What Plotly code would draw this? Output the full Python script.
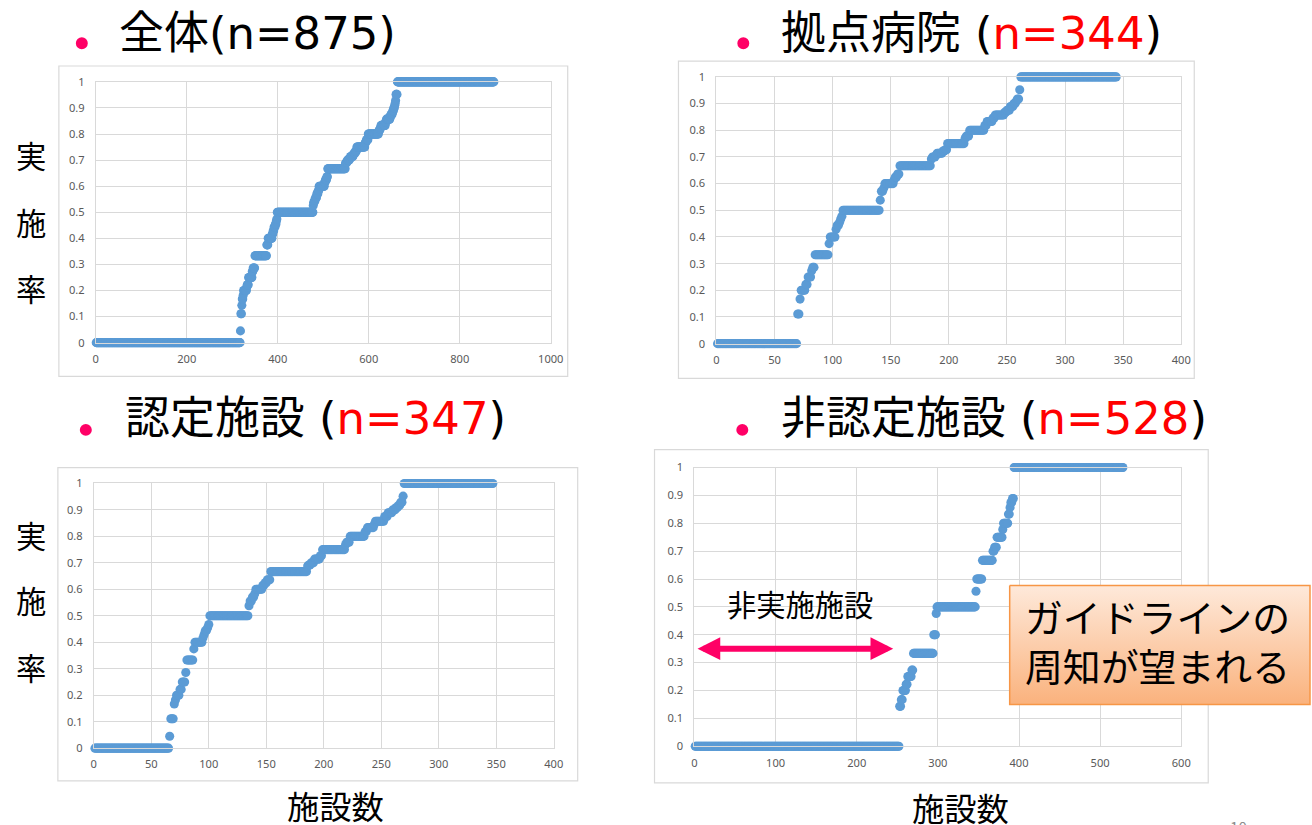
import plotly.graph_objects as go

# ---------------- data (run-length: sorted implementation rate, number of facilities) -------------
all_levels = [0, 0.045, 0.111, 0.143, 0.167, 0.182, 0.2, 0.214, 0.222, 0.25, 0.273, 0.286,
              0.333, 0.375, 0.4, 0.417, 0.429, 0.444, 0.455, 0.467, 0.474,
              0.5, 0.526, 0.538, 0.545, 0.556, 0.571, 0.583, 0.6, 0.615, 0.625, 0.636,
              0.667, 0.688, 0.692, 0.7, 0.706, 0.714, 0.722, 0.727, 0.733, 0.737,
              0.75, 0.765, 0.769, 0.778, 0.8, 0.812, 0.818, 0.824, 0.833, 0.846, 0.857,
              0.867, 0.875, 0.882, 0.889, 0.9, 0.909, 0.917, 0.929, 0.952, 1]
all_counts = [317, 1, 2, 1, 2, 1, 7, 1, 3, 8, 2, 4,
              26, 3, 9, 2, 2, 3, 2, 1, 1,
              79, 1, 2, 2, 3, 3, 2, 12, 2, 3, 2,
              39, 2, 2, 5, 2, 6, 2, 3, 2, 1,
              18, 1, 2, 4, 23, 2, 2, 1, 10, 2, 8,
              2, 3, 1, 2, 2, 1, 1, 1, 3, 213]

hub_levels = [0, 0.111, 0.167, 0.2, 0.222, 0.25, 0.273, 0.286, 0.333, 0.375, 0.4,
              0.429, 0.444, 0.455, 0.467, 0.478, 0.5, 0.538, 0.571, 0.583, 0.6,
              0.615, 0.625, 0.636, 0.667, 0.692, 0.7, 0.706, 0.714, 0.722, 0.727,
              0.75, 0.769, 0.778, 0.8, 0.818, 0.833, 0.846, 0.857,
              0.867, 0.875, 0.889, 0.9, 0.909, 0.917, 0.952, 1]
hub_counts = [69, 2, 1, 4, 2, 3, 1, 2, 12, 1, 5,
              1, 2, 1, 1, 1, 32, 1, 2, 1, 8,
              1, 2, 2, 27, 1, 3, 1, 5, 2, 2,
              15, 1, 3, 13, 2, 5, 2, 8,
              2, 3, 3, 2, 1, 2, 1, 83]

cert_levels = [0, 0.045, 0.111, 0.167, 0.182, 0.2, 0.222, 0.25, 0.286, 0.333, 0.375, 0.4,
               0.417, 0.429, 0.444, 0.455, 0.467, 0.5, 0.538, 0.556, 0.571, 0.583, 0.6,
               0.615, 0.625, 0.636, 0.667, 0.688, 0.692, 0.7, 0.714, 0.727,
               0.75, 0.769, 0.778, 0.8, 0.818, 0.833, 0.846, 0.857,
               0.875, 0.889, 0.9, 0.909, 0.917, 0.929, 0.952, 1]
cert_counts = [65, 1, 3, 1, 1, 3, 2, 3, 1, 6, 1, 7,
               1, 1, 2, 1, 1, 34, 1, 2, 2, 1, 6,
               2, 2, 3, 32, 1, 2, 3, 5, 2,
               20, 1, 3, 13, 2, 6, 1, 8,
               3, 4, 3, 2, 2, 2, 1, 78]

noncert_levels = [0, 0.143, 0.167, 0.2, 0.222, 0.25, 0.273, 0.333, 0.4, 0.476, 0.5, 0.556,
                  0.6, 0.667, 0.7, 0.714, 0.75, 0.778, 0.8, 0.833, 0.857, 0.875, 0.889, 1]
noncert_counts = [252, 2, 2, 4, 2, 5, 2, 25, 3, 1, 48, 1,
                  7, 13, 2, 3, 7, 1, 6, 2, 1, 2, 2, 135]

x_ticks_all = [0, 200, 400, 600, 800, 1000]
x_ticks_344 = [0, 50, 100, 150, 200, 250, 300, 350, 400]
x_ticks_528 = [0, 100, 200, 300, 400, 500, 600]
y_ticks = [0, 0.1, 0.2, 0.3, 0.4, 0.5, 0.6, 0.7, 0.8, 0.9, 1]

# design coordinates are in the 1312x825 reference frame
W, H = 1312, 825
S = 1.01   # figure rendered slightly larger (compensates the observed ~0.99 screenshot scaling)
DY = 4.5   # compensates the observed downward offset of the screenshot
FW, FH = round(W * S), round(H * S)
def px(x):
    return x / W
def py(y):
    return 1 - (y - DY) / H
def fs(v):
    return v * S

def expand(levels, counts):
    ys = []
    for v, c in zip(levels, counts):
        ys.extend([v] * c)
    xs = list(range(1, len(ys) + 1))
    return xs, ys

panels = [
    (all_levels, all_counts, x_ticks_all, [0, 1000], (93, 549, 79, 342)),
    (hub_levels, hub_counts, x_ticks_344, [0, 400], (715, 1181, 74, 343)),
    (cert_levels, cert_counts, x_ticks_344, [0, 400], (91, 552, 484, 751)),
    (noncert_levels, noncert_counts, x_ticks_528, [0, 600], (693, 1181, 468, 749)),
]

fig = go.Figure()
GRID = "#D9D9D9"
TICKFONT = dict(family="Noto Sans, Liberation Sans, sans-serif", size=fs(11), color="#595959")
layout = {}
for i, (lv, ct, xt, xr, (x0, x1, yt, yb)) in enumerate(panels, start=1):
    xs, ys = expand(lv, ct)
    sfx = "" if i == 1 else str(i)
    fig.add_trace(go.Scatter(
        x=xs, y=ys, mode="markers", xaxis="x" + sfx, yaxis="y" + sfx,
        marker=dict(color="#5B9BD5", size=fs(9), line=dict(width=0)),
        cliponaxis=False, showlegend=False, hoverinfo="x+y"))
    layout["xaxis" + sfx] = dict(
        domain=[px(x0), px(x1)], range=xr, tickvals=xt, anchor="y" + sfx,
        showgrid=True, gridcolor=GRID, gridwidth=1, zeroline=False,
        showline=True, linecolor=GRID, mirror=True, ticks="",
        tickfont=TICKFONT, ticklabelstandoff=6, fixedrange=True)
    layout["yaxis" + sfx] = dict(
        domain=[py(yb), py(yt)], range=[0, 1], tickvals=y_ticks, anchor="x" + sfx,
        showgrid=True, gridcolor=GRID, gridwidth=1, zeroline=False,
        showline=True, linecolor=GRID, mirror=True, ticks="",
        tickfont=TICKFONT, ticklabelstandoff=8, fixedrange=True)

# overlay full-page axes (reference pixel coordinates) for the callout box gradient
layout["xaxis5"] = dict(domain=[0, 1], range=[0, W], visible=False, anchor="y5", fixedrange=True)
layout["yaxis5"] = dict(domain=[0, 1], range=[-DY, H - DY], visible=False, anchor="x5", fixedrange=True)
bx0, bx1, by0, by1 = 1009, 1310, 587, 707
fig.add_trace(go.Scatter(
    x=[bx0, bx1, bx1, bx0, bx0], y=[H - by0, H - by0, H - by1, H - by1, H - by0],
    xaxis="x5", yaxis="y5", mode="lines", fill="toself",
    line=dict(color="#F79646", width=1.5),
    fillgradient=dict(type="vertical", colorscale=[[0, "#FAB27D"], [1, "#FEE9DA"]]),
    showlegend=False, hoverinfo="skip"))

shapes = []
frames = [(56, 63, 566, 376), (677, 58, 1194, 378), (55, 468, 576, 784), (653, 450, 1208, 786)]
for (l, t, r, b) in frames:
    shapes.append(dict(type="rect", xref="paper", yref="paper", x0=px(l), x1=px(r),
                       y0=py(b), y1=py(t), line=dict(color=GRID, width=1.2), layer="below"))
bullets = [(79, 40), (742, 40), (83, 430), (741, 430)]
for (cx, cy) in bullets:
    r = 6
    shapes.append(dict(type="circle", xref="paper", yref="paper", x0=px(cx - r), x1=px(cx + r),
                       y0=py(cy + r), y1=py(cy - r), fillcolor="#FF0066", line=dict(width=0)))

JP = "Noto Sans CJK JP, sans-serif"
TITLE = "DejaVu Sans, Noto Sans CJK JP, sans-serif"
ann = []
def text(x, y, s, size, color="black", xanchor="left", yanchor="middle", family=JP):
    ann.append(dict(x=px(x), y=py(y), xref="paper", yref="paper", text=s, showarrow=False,
                    xanchor=xanchor, yanchor=yanchor,
                    font=dict(family=family, size=fs(size), color=color)))

RED = "<span style='color:#FF0000'>"
text(114, 30, "全体(n=875)", 44.5, family=TITLE)
text(778, 30, "拠点病院 (" + RED + "n=344</span>)", 44.5, family=TITLE)
text(120, 419, "認定施設 (" + RED + "n=347</span>)", 44.5, family=TITLE)
text(778, 419, "非認定施設 (" + RED + "n=528</span>)", 44.5, family=TITLE)
for ch, yy in zip("実施率", (153, 220, 287)):
    text(28, yy, ch, 30, xanchor="center")
for ch, yy in zip("実施率", (536, 602, 669)):
    text(28, yy, ch, 30, xanchor="center")
text(333, 808, "施設数", 32, xanchor="center")
text(960, 810, "施設数", 32, xanchor="center")
text(799, 605, "非実施施設", 29, xanchor="center")
text(1157, 642, "ガイドラインの<br>周知が望まれる", 37.5, xanchor="center")
text(1238, 816, "10", 15, color="#8C8C8C", xanchor="center", yanchor="top")

# double-headed arrow (non-implementing facilities) on panel 4 axes
ann.append(dict(x=245, y=0.35, ax=2, ay=0.35, xref="x4", yref="y4", axref="x4", ayref="y4",
                text="", showarrow=True, arrowside="end+start", arrowhead=2, arrowsize=0.75,
                arrowwidth=fs(6), arrowcolor="#FF0066", standoff=0, startstandoff=0))

fig.update_layout(
    width=FW, height=FH, margin=dict(l=0, r=0, t=0, b=0),
    paper_bgcolor="white", plot_bgcolor="rgba(0,0,0,0)",
    shapes=shapes, annotations=ann, showlegend=False, **layout)

fig.write_html(
    "out.html",
    config={"responsive": False, "displayModeBar": False},
    post_script="document.body.style.margin='0';document.body.style.overflow='hidden';")
